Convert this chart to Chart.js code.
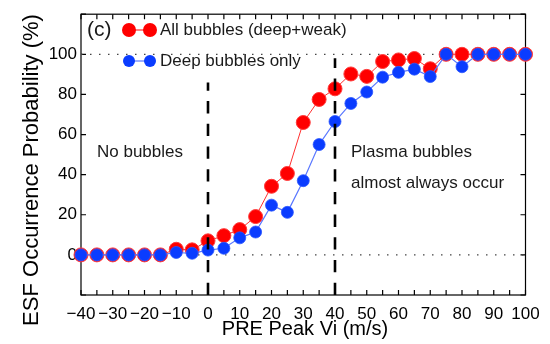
<!DOCTYPE html>
<html><head><meta charset="utf-8">
<script src="https://cdn.jsdelivr.net/npm/chart.js@4"></script>
<style>html,body{margin:0;padding:0;background:#fff}#wrap{width:550px;height:344px}</style>
</head><body><div id="wrap"><canvas id="c" width="550" height="344"></canvas></div>
<script>
const vi = [-40,-35,-30,-25,-20,-15,-10,-5,0,5,10,15,20,25,30,35,40,45,50,55,60,65,70,75,80,85,90,95,100];
const allBubbles = [0,0,0,0,0,0,2.8,2.5,7,9.6,12.6,19.1,34.2,40.6,66,77.5,82.8,90.2,89,96.4,97.2,97.9,92.8,100,100,100,100,100,100];
const deepBubbles = [0,0,0,0,0,0,1.2,0.8,2.4,3.3,8.5,11.4,24.8,21.2,37,55,66.5,75.5,81.2,88.6,91,92.6,88.9,100,93.8,100,100,100,100];
const xLabelValues = [-40,-30,-20,-10,0,10,20,30,40,50,60,70,80,90,100];
const xTickLabels = ['\u221240','\u221230','\u221220','\u221210','0','10','20','30','40','50','60','70','80','90','100'];
const yLabelValues = [0,20,40,60,80,100];
const yTickLabels = ['0','20','40','60','80','100'];
const refLinesY = [0,100];
const regionLinesX = [0,40];
const regionLineTops = [86,98];
const seriesNames = ['All bubbles (deep+weak)','Deep bubbles only'];

const FONT = '"Liberation Sans", Arial, Helvetica, sans-serif';
const RED = '#ff0000', BLUE = '#0a3cff';

const pts = arr => vi.map((x,i)=>({x:x,y:arr[i]}));

const datasets = [];
regionLinesX.forEach((x,i)=>datasets.push({
  data:[{x:x,y:-20},{x:x,y:regionLineTops[i]}], borderColor:'#000', borderWidth:2.6,
  borderDash:[12.3,10.4], pointRadius:0, showLine:true, clip:false
}));
datasets.push({label:seriesNames[1], data:pts(deepBubbles), borderColor:'#5a78ff', borderWidth:1.2,
  pointRadius:6, pointBackgroundColor:BLUE, pointBorderColor:'#2a55ff', pointBorderWidth:0.8, showLine:true, clip:false});
datasets.push({label:seriesNames[0], data:pts(allBubbles), borderColor:'#ff3030', borderWidth:1,
  pointRadius:7, pointBackgroundColor:RED, pointBorderColor:'#ff3a3a', pointBorderWidth:1, showLine:true, clip:false});
refLinesY.forEach(y=>datasets.push({
  data:[{x:-40,y:y},{x:100,y:y}], borderColor:'#444', borderWidth:1.2,
  borderDash:[1.5,7.5], pointRadius:0, showLine:true, clip:false
}));

const deco = {
  id:'deco',
  beforeDatasetsDraw(chart){
    const {ctx, chartArea:{left,right,top,bottom}, scales:{x,y}} = chart;
    ctx.save();
    ctx.strokeStyle='#000'; ctx.lineWidth=1.2;
    ctx.strokeRect(left,top,right-left,bottom-top);
    ctx.beginPath();
    x.ticks.forEach(t=>{const p=x.getPixelForValue(t.value);
      ctx.moveTo(p,bottom); ctx.lineTo(p,bottom-5); ctx.moveTo(p,top); ctx.lineTo(p,top+5);});
    y.ticks.forEach(t=>{const p=y.getPixelForValue(t.value);
      ctx.moveTo(left,p); ctx.lineTo(left+5,p); ctx.moveTo(right,p); ctx.lineTo(right-5,p);});
    ctx.stroke();
    ctx.restore();
  },
  afterDraw(chart){
    const {ctx} = chart;
    ctx.save();
    ctx.fillStyle='#1a1a1a';
    ctx.textBaseline='middle'; ctx.textAlign='left';
    ctx.font='21px '+FONT; ctx.fillText('(c)',87,30);
    // legend
    const leg = [[RED,'#ff3030',7,30,seriesNames[0]],[BLUE,'#5a78ff',6,61,seriesNames[1]]];
    leg.forEach(([c,lc,r,yy,name])=>{
      ctx.strokeStyle=lc; ctx.lineWidth=1.2; ctx.beginPath(); ctx.moveTo(129,yy); ctx.lineTo(150,yy); ctx.stroke();
      [129,150].forEach(xx=>{ctx.beginPath(); ctx.arc(xx,yy,r,0,Math.PI*2); ctx.fillStyle=c; ctx.fill();});
      ctx.fillStyle='#1a1a1a'; ctx.font='17px '+FONT; ctx.fillText(name,160,yy);
    });
    ctx.font='17px '+FONT;
    ctx.fillText('No bubbles',97,152);
    ctx.fillText('Plasma bubbles',351,152);
    ctx.fillText('almost always occur',351,183);
    // axis titles
    ctx.fillStyle='#000';
    ctx.textAlign='center';
    ctx.font='20px '+FONT; ctx.fillText('PRE Peak Vi (m/s)',305,329);
    ctx.translate(32,170); ctx.rotate(-Math.PI/2);
    ctx.font='22px '+FONT; ctx.fillText('ESF Occurrence Probability (%)',0,0);
    ctx.restore();
  }
};

new Chart(document.getElementById('c'), {
  type:'scatter',
  data:{datasets:datasets},
  options:{
    responsive:false, animation:false, devicePixelRatio:1, events:[],
    layout:{padding:{left:0,top:9,right:24.5,bottom:0}},
    plugins:{legend:{display:false}, tooltip:{enabled:false}},
    scales:{
      x:{type:'linear', min:-40, max:100,
        grid:{display:false, drawTicks:false}, border:{display:false},
        ticks:{stepSize:5, autoSkip:false, maxRotation:0, minRotation:0, padding:9, color:'#000',
          font:{family:FONT, size:17},
          callback:v=>{const i=xLabelValues.indexOf(v); return i>=0?xTickLabels[i]:'';}},
        afterFit:s=>{s.height=49;}},
      y:{type:'linear', min:-20, max:120,
        grid:{display:false, drawTicks:false}, border:{display:false},
        ticks:{stepSize:20, autoSkip:false, padding:4, color:'#000',
          font:{family:FONT, size:17},
          callback:v=>{const i=yLabelValues.indexOf(v); return i>=0?yTickLabels[i]:'';}},
        afterFit:s=>{s.width=81;}}
    }
  },
  plugins:[deco]
});
</script></body></html>
